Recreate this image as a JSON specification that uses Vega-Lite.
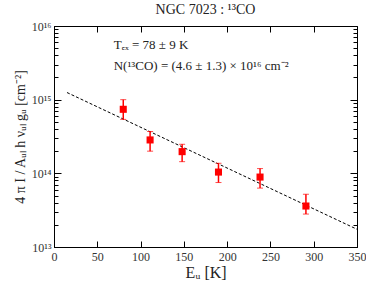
{
  "$schema": "https://vega.github.io/schema/vega-lite/v6.json",
  "width": 303,
  "height": 221,
  "padding": {"left": 13, "top": 3, "right": 0, "bottom": 0},
  "autosize": {"type": "pad"},
  "title": {"text": "NGC 7023 : ¹³CO", "font": "Liberation Serif", "fontSize": 14, "fontWeight": "normal", "color": "#222", "offset": 3},
  "config": {
    "view": {"stroke": "black", "strokeWidth": 1},
    "font": "Liberation Serif",
    "axis": {"labelFont": "Liberation Serif", "titleFont": "Liberation Serif", "labelFontSize": 12, "titleFontSize": 14, "titleFontWeight": "normal", "labelColor": "#333", "titleColor": "#222", "domainColor": "black", "tickColor": "black", "grid": false, "zindex": 1}
  },
  "datasets": {
    "pts": [
      {"E": 80, "N": 7.4e14, "lo": 5.4e14, "hi": 1.0e15},
      {"E": 111, "N": 2.84e14, "lo": 2.0e14, "hi": 3.7e14},
      {"E": 148, "N": 1.97e14, "lo": 1.44e14, "hi": 2.48e14},
      {"E": 190, "N": 1.04e14, "lo": 7.5e13, "hi": 1.37e14},
      {"E": 238, "N": 8.9e13, "lo": 6.3e13, "hi": 1.16e14},
      {"E": 291, "N": 3.6e13, "lo": 2.8e13, "hi": 5.2e13}
    ],
    "fit": [
      {"E": 15, "N": 1.25e15},
      {"E": 350, "N": 1.74e13}
    ],
    "notes": [
      {"E": 69, "N": 5.6e15, "label": "Tₑₓ = 78 ± 9 K"},
      {"E": 69, "N": 2.85e15, "label": "N(¹³CO) = (4.6 ± 1.3) × 10¹⁶ cm⁻²"}
    ]
  },
  "layer": [
    {
      "data": {"name": "fit"},
      "mark": {"type": "line", "color": "black", "strokeDash": [3, 2], "strokeWidth": 1},
      "encoding": {
        "x": {"field": "E", "type": "quantitative", "scale": {"domain": [0, 350], "nice": false, "zero": false},
          "axis": {"title": "Eᵤ [K]", "values": [0, 50, 100, 150, 200, 250, 300, 350], "tickSize": -6, "labelPadding": 10, "titleFontSize": 16, "titlePadding": 2, "labelFlush": false}},
        "y": {"field": "N", "type": "quantitative", "scale": {"type": "log", "domain": [1e13, 1e16], "nice": false},
          "axis": {"title": "4 π I / Aᵤₗ h νᵤₗ gᵤ [cm⁻²]",
            "values": [1e13, 1e14, 1e15, 1e16],
            "labelExpr": "datum.value==1e13?'10¹³':datum.value==1e14?'10¹⁴':datum.value==1e15?'10¹⁵':datum.value==1e16?'10¹⁶':''",
            "tickSize": -7, "labelPadding": 10, "titlePadding": 4, "labelFlush": false}}
      }
    },
    {
      "data": {"name": "pts"},
      "mark": {"type": "errorbar", "color": "red", "ticks": {"size": 6, "color": "red", "strokeWidth": 1.5}, "rule": {"strokeWidth": 1.5}},
      "encoding": {
        "x": {"field": "E", "type": "quantitative", "axis": null},
        "y": {"field": "lo", "type": "quantitative", "axis": null},
        "y2": {"field": "hi"}
      }
    },
    {
      "data": {"name": "pts"},
      "mark": {"type": "point", "shape": "square", "filled": true, "color": "red", "opacity": 1, "size": 50},
      "encoding": {
        "x": {"field": "E", "type": "quantitative", "axis": null},
        "y": {"field": "N", "type": "quantitative", "axis": null}
      }
    },
    {
      "data": {"name": "notes"},
      "mark": {"type": "text", "align": "left", "baseline": "middle", "fontSize": 13, "color": "#222", "font": "Liberation Serif"},
      "encoding": {
        "x": {"field": "E", "type": "quantitative", "axis": null},
        "y": {"field": "N", "type": "quantitative", "axis": null},
        "text": {"field": "label"}
      }
    },
    {
      "data": {"name": "fit"},
      "mark": {"type": "point", "opacity": 0},
      "encoding": {
        "x": {"field": "E", "type": "quantitative",
          "axis": {"orient": "top", "title": null, "labels": false, "values": [0, 50, 100, 150, 200, 250, 300, 350], "tickSize": -6, "domain": false}},
        "y": {"field": "N", "type": "quantitative",
          "axis": {"orient": "right", "title": null, "labels": false,
            "values": [1e13, 1e14, 1e15, 1e16], "tickSize": -7, "domain": false}}
      }
    },
    {
      "data": {"name": "fit"},
      "mark": {"type": "point", "opacity": 0},
      "encoding": {
        "x": {"field": "E", "type": "quantitative", "axis": null},
        "y": {"field": "N", "type": "quantitative",
          "axis": {"orient": "left", "title": null, "labels": false, "domain": false, "tickSize": -4,
            "values": [2e13, 3e13, 4e13, 5e13, 6e13, 7e13, 8e13, 9e13, 2e14, 3e14, 4e14, 5e14, 6e14, 7e14, 8e14, 9e14, 2e15, 3e15, 4e15, 5e15, 6e15, 7e15, 8e15, 9e15]}}
      }
    },
    {
      "data": {"name": "fit"},
      "mark": {"type": "point", "opacity": 0},
      "encoding": {
        "x": {"field": "E", "type": "quantitative", "axis": null},
        "y": {"field": "N", "type": "quantitative",
          "axis": {"orient": "right", "title": null, "labels": false, "domain": false, "tickSize": -4,
            "values": [2e13, 3e13, 4e13, 5e13, 6e13, 7e13, 8e13, 9e13, 2e14, 3e14, 4e14, 5e14, 6e14, 7e14, 8e14, 9e14, 2e15, 3e15, 4e15, 5e15, 6e15, 7e15, 8e15, 9e15]}}
      }
    }
  ],
  "resolve": {"axis": {"x": "independent", "y": "independent"}}
}
